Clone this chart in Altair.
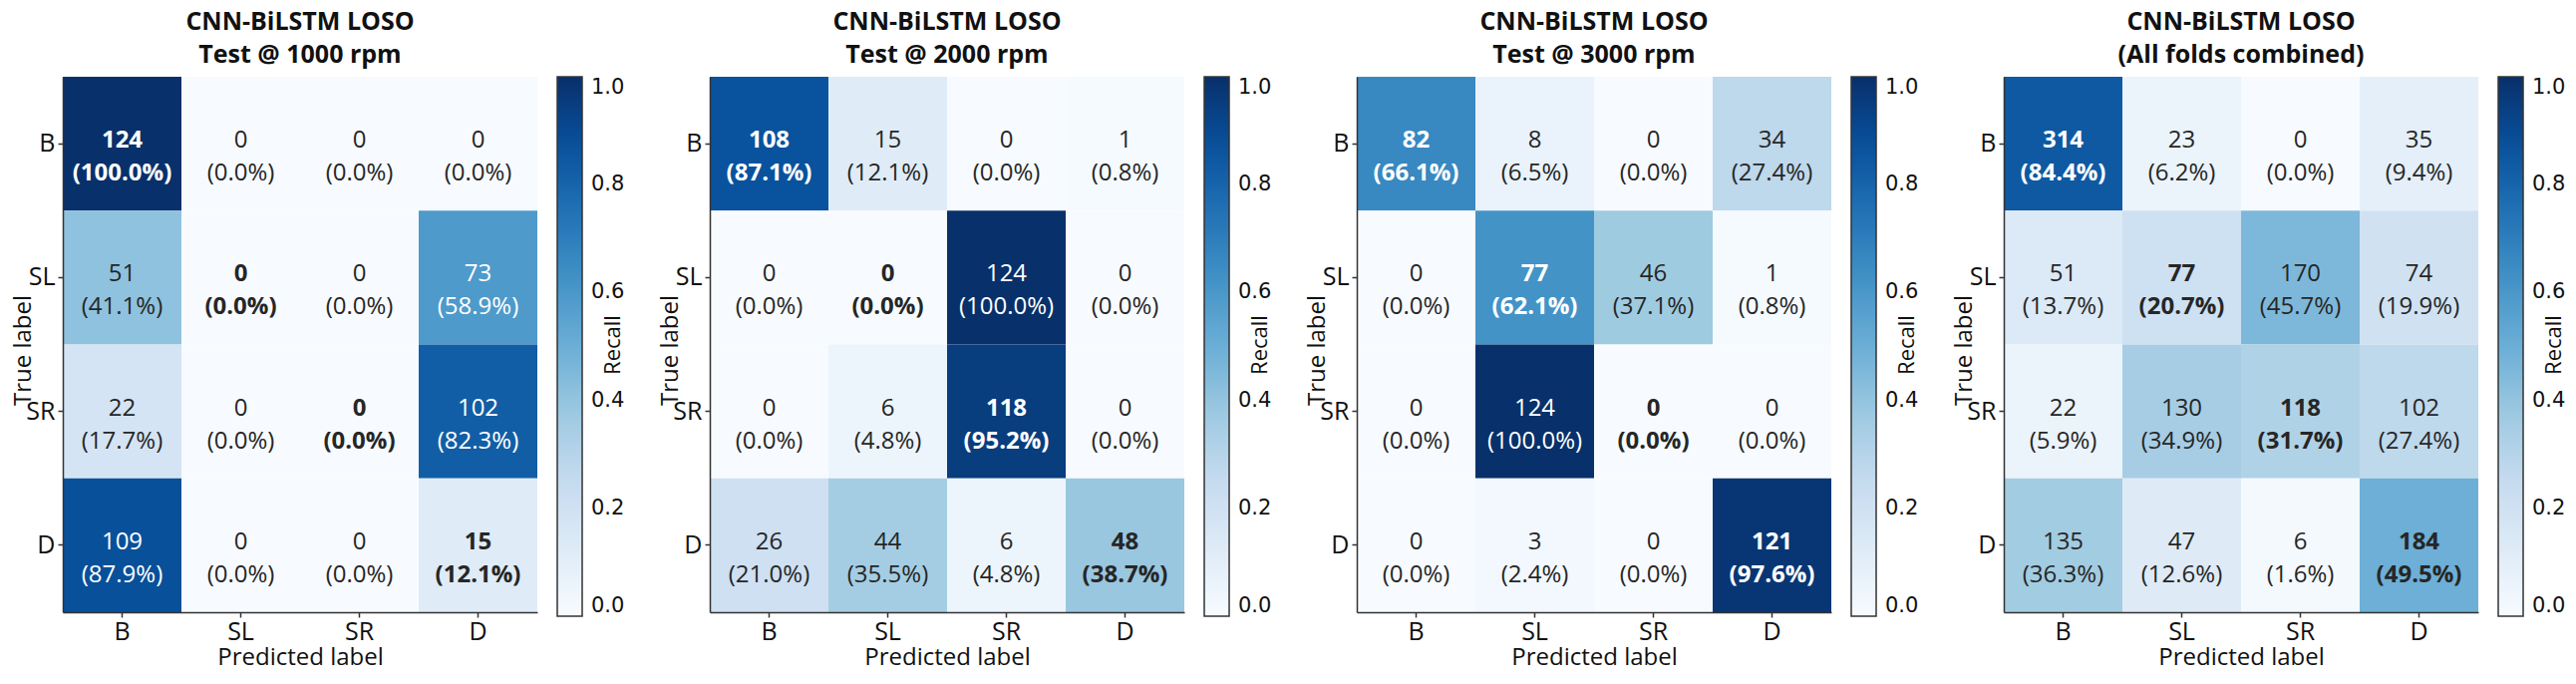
import altair as alt
import pandas as pd

classes = ["B", "SL", "SR", "D"]

titles = [
    ["CNN-BiLSTM LOSO", "Test @ 1000 rpm"],
    ["CNN-BiLSTM LOSO", "Test @ 2000 rpm"],
    ["CNN-BiLSTM LOSO", "Test @ 3000 rpm"],
    ["CNN-BiLSTM LOSO", "(All folds combined)"],
]

# rows = true label, columns = predicted label (counts)
cm_1000 = [[124, 0, 0, 0], [51, 0, 0, 73], [22, 0, 0, 102], [109, 0, 0, 15]]
cm_2000 = [[108, 15, 0, 1], [0, 0, 124, 0], [0, 6, 118, 0], [26, 44, 6, 48]]
cm_3000 = [[82, 8, 0, 34], [0, 77, 46, 1], [0, 124, 0, 0], [0, 3, 0, 121]]
cm_all = [[314, 23, 0, 35], [51, 77, 170, 74], [22, 130, 118, 102], [135, 47, 6, 184]]

matrices = [cm_1000, cm_2000, cm_3000, cm_all]
colorbar_title = "Recall"

blues_range = ["#f7fbff", "#deebf7", "#c6dbef", "#9ecae1", "#6baed6",
               "#4292c6", "#2171b5", "#08519c", "#08306b"]
blues_stops = [0, 0.125, 0.25, 0.375, 0.5, 0.625, 0.75, 0.875, 1.0]
cbar_ticks = [0.0, 0.2, 0.4, 0.6, 0.8, 1.0]

FONT = "Open Sans"
W, H = 476, 537
CB_OFF, CB_W = 20, 25


def make_df(cm):
    rows = []
    for i, t in enumerate(classes):
        s = sum(cm[i])
        for j, p in enumerate(classes):
            c = cm[i][j]
            r = c / s if s else 0.0
            rows.append(dict(true=t, pred=p, count=c, recall=r,
                             label=f"{c}\n({r * 100:.1f}%)", diag=(i == j)))
    return pd.DataFrame(rows)


def panel(cm, title):
    df = make_df(cm)
    base = alt.Chart(df).encode(
        x=alt.X("pred:N", sort=classes, title="Predicted label",
                scale=alt.Scale(paddingInner=0, paddingOuter=0),
                axis=alt.Axis(labelAngle=0, labelFont=FONT, labelFontSize=25,
                              labelColor="#111", titleFont=FONT, titleFontSize=24,
                              titleFontWeight="normal", titleColor="#111",
                              domainColor="#333", domainWidth=1.5, tickColor="#333",
                              tickWidth=1.5, tickSize=5, labelPadding=2, titlePadding=1,
                              grid=False)),
        y=alt.Y("true:N", sort=classes, title="True label",
                scale=alt.Scale(paddingInner=0, paddingOuter=0),
                axis=alt.Axis(labelFont=FONT, labelFontSize=25, labelColor="#111",
                              titleFont=FONT, titleFontSize=24, titleFontWeight="normal",
                              titleColor="#111", domainColor="#333", domainWidth=1.5,
                              tickColor="#333", tickWidth=1.5, tickSize=5, labelPadding=3,
                              titleX=-40, titleY=274, titleBaseline="middle",
                              grid=False)),
    )
    rect = base.mark_rect().encode(
        color=alt.Color("recall:Q",
                        scale=alt.Scale(domain=blues_stops, range=blues_range,
                                        interpolate="rgb"),
                        legend=alt.Legend(title=None, values=cbar_ticks, format=".1f",
                                          orient="right", offset=CB_OFF, direction="vertical",
                                          gradientLength=541, gradientThickness=CB_W,
                                          gradientStrokeColor="#333",
                                          gradientStrokeWidth=1.5,
                                          labelFont="DejaVu Sans", labelFontSize=21,
                                          labelColor="#111", labelOffset=9,
                                          labelBaseline="middle", labelOverlap=False)),
    )
    txt_color = alt.condition(alt.datum.recall > 0.5, alt.value("white"), alt.value("#262626"))
    t_norm = base.transform_filter("!datum.diag").mark_text(
        font=FONT, fontSize=24, lineBreak="\n", lineHeight=33, baseline="middle", dy=-3
    ).encode(text="label:N", color=txt_color)
    t_bold = base.transform_filter("datum.diag").mark_text(
        font=FONT, fontSize=24, fontWeight="bold", lineBreak="\n", lineHeight=33,
        baseline="middle", dy=-3
    ).encode(text="label:N", color=txt_color)
    cb_title = alt.Chart(pd.DataFrame({"t": [colorbar_title]})).mark_text(
        font=FONT, fontSize=22, angle=270, baseline="middle", align="center", color="#111"
    ).encode(text="t:N", x=alt.value(W + 76), y=alt.value(269))
    return alt.layer(rect, t_norm, t_bold, cb_title).properties(
        width=W, height=H,
        title=alt.TitleParams(text=title, font=FONT, fontSize=25, fontWeight="bold",
                              color="#111", lineHeight=33, anchor="middle", offset=9),
    )


chart = alt.hconcat(*[panel(m, t) for m, t in zip(matrices, titles)], spacing=33).resolve_scale(
    color="independent"
).properties(
    padding={"left": 3, "top": 2, "right": 0, "bottom": 0},
    background="white",
).configure_view(stroke=None)

chart.save("out.html", embed_options={"renderer": "svg", "actions": False})
